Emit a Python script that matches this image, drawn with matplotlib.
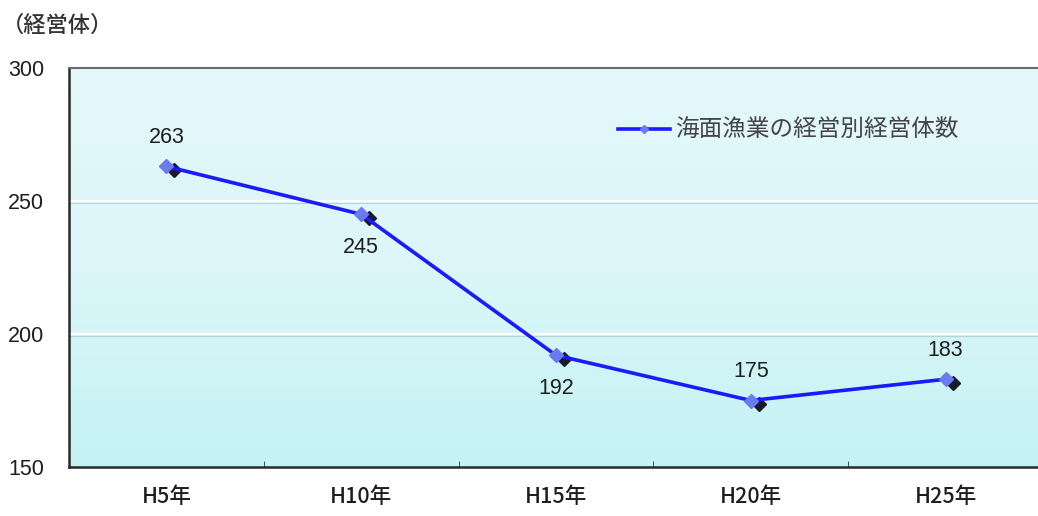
import matplotlib
matplotlib.use("Agg")
import matplotlib.pyplot as plt
import numpy as np
from matplotlib.colors import LinearSegmentedColormap

plt.rcParams['font.family'] = ['Noto Sans CJK JP', 'DejaVu Sans']

categories = ["H5年", "H10年", "H15年", "H20年", "H25年"]
values = [263, 245, 192, 175, 183]
series_name = "海面漁業の経営別経営体数"
label_pos = ["above", "below", "below", "above", "above"]

W, H = 1038, 516
fig = plt.figure(figsize=(W/100, H/100), dpi=100)
left, right, top, bottom = 69, 1043, 68, 467
ax = fig.add_axes([left/W, 1-bottom/H, (right-left)/W, (bottom-top)/H])

x = np.arange(len(categories))
ax.set_xlim(-0.5, len(categories)-0.5)
ax.set_ylim(150, 300)

# gradient background
grad = np.linspace(0, 1, 256).reshape(-1, 1)
cmap = LinearSegmentedColormap.from_list("bg", ["#c4f3f4", "#dcf6f9", "#e4f8fb"])
ax.imshow(grad, extent=[-0.5, len(categories)-0.5, 150, 300], origin="lower",
          aspect="auto", cmap=cmap, zorder=0)

for yv in [200, 250]:
    ax.axhline(yv, color="white", lw=1.5, zorder=1)
    ax.axhline(yv-0.8, color="#b0d6da", lw=0.8, zorder=1)

# shadow markers
ax.plot(x+0.04, np.array(values)-1.5, linestyle="none", marker="D", ms=7,
        color="#1a1a2a", zorder=3)
line, = ax.plot(x, values, color="#1a1aff", lw=2.6, marker="D", ms=7,
                markerfacecolor="#6a7af0", markeredgecolor="#6a7af0", zorder=4,
                label=series_name)

num_font = ['Liberation Sans', 'DejaVu Sans']
for xi, v, pos in zip(x, values, label_pos):
    dy = 21 if pos == "above" else -24
    ax.annotate(str(v), (xi, v), xytext=(0, dy), textcoords="offset points",
                ha="center", va="center", fontsize=15.5, color="#1e1e1e",
                family=num_font, zorder=5)

ax.set_xticks(x)
ax.set_xticklabels(categories, fontsize=15.5, color="#1e1e1e", fontweight="medium")
ax.set_xticks(np.arange(0.5, len(categories)-0.5, 1), minor=True)
ax.tick_params(axis="x", which="major", length=0, pad=14)
ax.tick_params(axis="x", which="minor", length=4, direction="in", color="#333333")
ax.set_yticks([150, 200, 250, 300])
ax.set_yticklabels(["150", "200", "250", "300"], fontsize=15.5, color="#1e1e1e",
                   family=num_font)
ax.tick_params(axis="y", length=0, pad=18)

for s in ["left", "bottom"]:
    ax.spines[s].set_color("#2a2a2a")
    ax.spines[s].set_linewidth(1.8)
ax.spines["top"].set_color("#607070")
ax.spines["top"].set_linewidth(1.5)
ax.spines["right"].set_visible(False)

leg = ax.legend(loc="upper right", bbox_to_anchor=(0.935, 0.925), frameon=False,
                fontsize=17, handlelength=2.2, handletextpad=0.2, markerscale=0.6)
for t in leg.get_texts():
    t.set_color("#444444")

fig.text(2/W, 1-25/H, "（経営体）", fontsize=16, color="#333333", ha="left",
         va="center", fontweight="medium")

fig.savefig("out.png", dpi=100)
